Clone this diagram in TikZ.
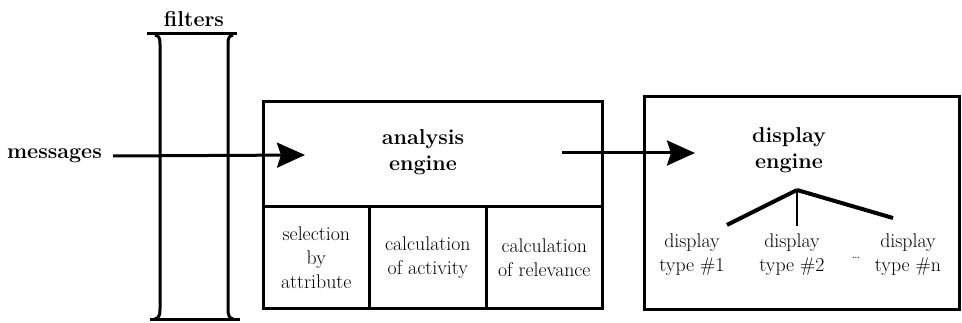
\documentclass[tikz,border=0pt]{standalone}
\usepackage{fontspec}
\usetikzlibrary{arrows.meta}
\begin{document}
\begin{tikzpicture}[x=1pt,y=-1pt,
  heavy/.style={line width=3pt},
  frame/.style={draw, line width=2.6pt, inner sep=0pt},
  plain/.style={font=\fontsize{19.8}{24}\selectfont\addfontfeature{FakeBold=0.6}, align=center, inner sep=0pt},
  boldlbl/.style={font=\fontsize{21.5}{26}\selectfont\bfseries, align=center, inner sep=0pt},
  flow/.style={line width=3pt, -{Stealth[length=28pt,width=25pt,inset=4pt]}}]
\useasboundingbox (0,0) rectangle (962,323);

% filter column
\node[boldlbl] (filt) at (194,19) {filters};
\draw[heavy] (147,34) -- (237,34);
\draw[heavy] (150,320) -- (240,320);
\draw[heavy] (155,35) .. controls (159,36) and (160,38) .. (160,44) -- (160,309)
  .. controls (160,315) and (159,318) .. (155,319);
\draw[heavy] (233,35) .. controls (229,36) and (228,38) .. (228,44) -- (228,309)
  .. controls (228,315) and (229,318) .. (233,319);

% analysis engine
\node[frame, minimum width=339pt, minimum height=105pt, anchor=north west] (ana) at (262,100) {};
\node[boldlbl] (anatxt) at (423,152) {analysis\\engine};
\node[frame, minimum width=106pt, minimum height=102pt, anchor=north west, plain] (sel) at (262,205) {selection\\by\\attribute};
\node[frame, minimum width=117pt, minimum height=102pt, anchor=north west, plain] (act) at (368,205) {calculation\\of activity};
\node[frame, minimum width=116pt, minimum height=102pt, anchor=north west, plain] (rel) at (485,205) {calculation\\of relevance};

% display engine
\node[frame, minimum width=315pt, minimum height=213pt, anchor=north west] (disp) at (643,95) {};
\node[boldlbl] (disptxt) at (789,150) {display\\engine};
\coordinate (apex) at (797,190);
\node[plain] (t1) at (692,255) {display\\type \#1};
\node[plain] (t2) at (792,255) {display\\type \#2};
\node[plain] (tn) at (908,255) {display\\type \#n};
\node[font=\fontsize{15}{15}\selectfont, inner sep=0pt] (dots) at (856,258) {\dots};
\draw[line width=4pt] (t1.north) ++(35,-9) coordinate (l1) (apex) -- (l1);
\draw[line width=4pt] (apex) -- (893,218) coordinate (ln);
\draw[line width=2pt] (apex) -- (797,226) coordinate (l2);

% connectors
\node[boldlbl, anchor=east] (msg) at (102,156) {messages};
\coordinate (inA) at (305,155);
\coordinate (outA) at (562,153);
\coordinate (inD) at (695,153);
\draw[flow] (msg.east) ++(11,0) coordinate (msgstart) (msgstart) -- (inA);
\draw[flow] (outA) -- (inD);
\end{tikzpicture}
\end{document}
